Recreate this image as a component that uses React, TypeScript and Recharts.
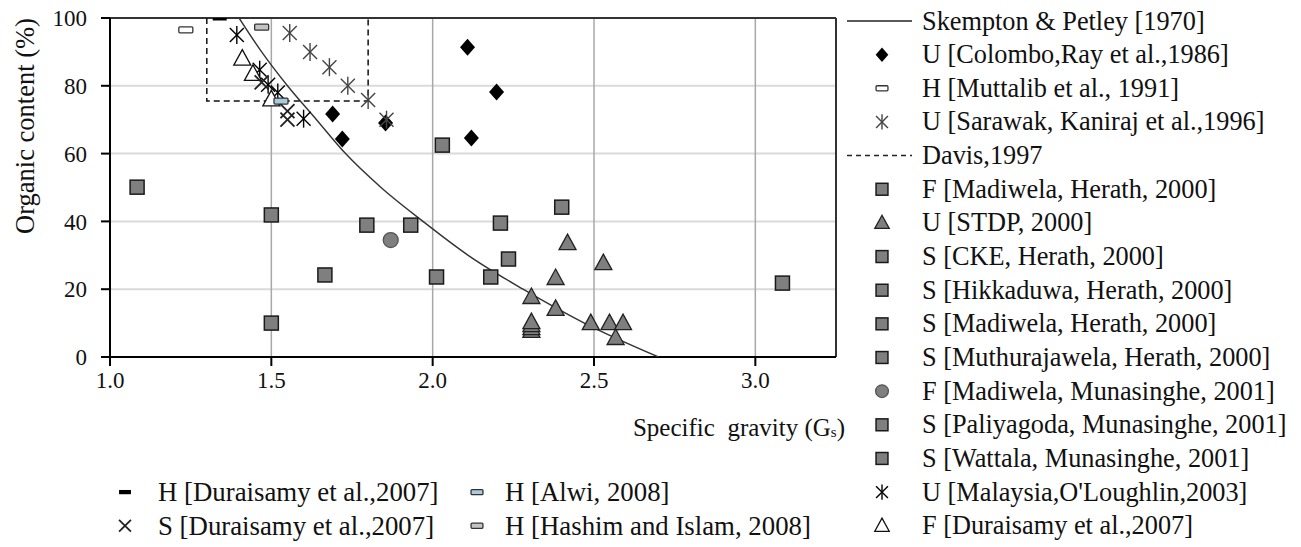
import React from 'react';
import { ScatterChart, Scatter, XAxis, YAxis, CartesianGrid, ReferenceLine } from 'recharts';

type Pt = { x: number; y: number };

const xTicks = [1.0, 1.5, 2.0, 2.5, 3.0];
const yTicks = [0, 20, 40, 60, 80, 100];

// reference curve
const skemptonPetley: Pt[] = [
  { x: 1.4, y: 100 }, { x: 1.47, y: 90 }, { x: 1.55, y: 80 }, { x: 1.64, y: 70 },
  { x: 1.73, y: 60 }, { x: 1.84, y: 50 }, { x: 1.97, y: 40 }, { x: 2.11, y: 30 },
  { x: 2.28, y: 20 }, { x: 2.47, y: 10 }, { x: 2.7, y: 0 }
];
const davis1997: Pt[] = [
  { x: 1.3, y: 100 }, { x: 1.3, y: 75.5 }, { x: 1.8, y: 75.5 }, { x: 1.8, y: 100 }
];

const colomboRay: Pt[] = [
  { x: 1.69, y: 71.7 }, { x: 1.72, y: 64.3 }, { x: 1.854, y: 69 },
  { x: 2.108, y: 91.4 }, { x: 2.198, y: 78.2 }, { x: 2.12, y: 64.6 }
];
const muttalib: Pt[] = [{ x: 1.235, y: 96.5 }];
const sarawak: Pt[] = [
  { x: 1.557, y: 95.6 }, { x: 1.62, y: 90 }, { x: 1.68, y: 85.5 },
  { x: 1.737, y: 80 }, { x: 1.8, y: 75.8 }, { x: 1.857, y: 70 }
];
const madiwelaHerathF: Pt[] = [{ x: 2.03, y: 62.5 }, { x: 2.21, y: 39.5 }];
const stdp: Pt[] = [
  { x: 2.418, y: 33.6 }, { x: 2.529, y: 27.7 }, { x: 2.381, y: 23.3 }, { x: 2.306, y: 17.7 },
  { x: 2.381, y: 14.2 }, { x: 2.306, y: 7.7 }, { x: 2.306, y: 8.5 }, { x: 2.306, y: 9.4 },
  { x: 2.306, y: 10.3 }, { x: 2.49, y: 10 }, { x: 2.548, y: 10 }, { x: 2.59, y: 10 },
  { x: 2.567, y: 5.6 }
];
const cke: Pt[] = [{ x: 1.796, y: 38.9 }, { x: 1.932, y: 38.9 }];
const hikkaduwa: Pt[] = [{ x: 1.5, y: 41.9 }, { x: 1.5, y: 10 }];
const madiwelaHerathS: Pt[] = [{ x: 2.235, y: 28.9 }, { x: 2.18, y: 23.6 }];
const muthurajawela: Pt[] = [{ x: 1.084, y: 50.1 }, { x: 1.666, y: 24.2 }];
const madiwelaMunasinghe: Pt[] = [{ x: 1.87, y: 34.5 }];
const paliyagoda: Pt[] = [{ x: 2.012, y: 23.6 }, { x: 3.084, y: 21.8 }];
const wattala: Pt[] = [{ x: 2.4, y: 44.2 }];
const malaysia: Pt[] = [
  { x: 1.393, y: 95 }, { x: 1.464, y: 84.7 }, { x: 1.49, y: 80.3 }, { x: 1.52, y: 78 }, { x: 1.6, y: 70.3 }
];
const duraisamyF: Pt[] = [{ x: 1.41, y: 88 }, { x: 1.443, y: 83.5 }, { x: 1.5, y: 76 }];
const duraisamyH: Pt[] = [{ x: 1.34, y: 100 }];
const alwi: Pt[] = [{ x: 1.53, y: 75.5 }];
const duraisamyS: Pt[] = [{ x: 1.55, y: 72.5 }, { x: 1.55, y: 70 }, { x: 1.47, y: 81 }];
const hashimIslam: Pt[] = [{ x: 1.47, y: 97.3 }];

const GRAY = '#7f7f7f';

function marker(kind: string, cx: number, cy: number, s = 1) {
  switch (kind) {
    case 'diamond':
      return <polygon points={`${cx},${cy - 8.5 * s} ${cx + 7.5 * s},${cy} ${cx},${cy + 8.5 * s} ${cx - 7.5 * s},${cy}`} fill="#000" />;
    case 'square':
      return <rect x={cx - 7 * s} y={cy - 7 * s} width={14 * s} height={14 * s} fill={GRAY} stroke="#1a1a1a" strokeWidth={1.5} />;
    case 'triangle':
      return <polygon points={`${cx},${cy - 9 * s} ${cx + 8.5 * s},${cy + 6.5 * s} ${cx - 8.5 * s},${cy + 6.5 * s}`} fill={GRAY} stroke="#222" strokeWidth={1.3} />;
    case 'triangleOpen':
      return <polygon points={`${cx},${cy - 9 * s} ${cx + 8.5 * s},${cy + 6.5 * s} ${cx - 8.5 * s},${cy + 6.5 * s}`} fill="#fff" stroke="#111" strokeWidth={1.3} />;
    case 'circle':
      return <circle cx={cx} cy={cy} r={7.5 * s} fill={GRAY} stroke="#555" strokeWidth={1.3} />;
    case 'asterGray':
    case 'asterBlack': {
      const c = kind === 'asterGray' ? '#444' : '#000';
      const d = 7 * s;
      return (
        <g stroke={c} strokeWidth={1.4}>
          <line x1={cx} y1={cy - 9 * s} x2={cx} y2={cy + 9 * s} />
          <line x1={cx - d} y1={cy - d} x2={cx + d} y2={cy + d} />
          <line x1={cx + d} y1={cy - d} x2={cx - d} y2={cy + d} />
        </g>
      );
    }
    case 'cross': {
      const d = 7 * s;
      return (
        <g stroke="#222" strokeWidth={1.8}>
          <line x1={cx - d} y1={cy - d} x2={cx + d} y2={cy + d} />
          <line x1={cx + d} y1={cy - d} x2={cx - d} y2={cy + d} />
        </g>
      );
    }
    case 'dashBlack':
      return <rect x={cx - 7 * s} y={cy - 2.5 * s} width={14 * s} height={5 * s} fill="#000" />;
    case 'dashWhite':
      return <rect x={cx - 7 * s} y={cy - 3 * s} width={14 * s} height={6 * s} rx={1} fill="#fff" stroke="#333" strokeWidth={1.3} />;
    case 'dashBlue':
      return <rect x={cx - 7 * s} y={cy - 3 * s} width={14 * s} height={6 * s} rx={1} fill="#a9cbdc" stroke="#333" strokeWidth={1.3} />;
    case 'dashGray':
      return <rect x={cx - 7 * s} y={cy - 3 * s} width={14 * s} height={6 * s} rx={1} fill="#c4c4c4" stroke="#333" strokeWidth={1.3} />;
    default:
      return <g />;
  }
}

const series = [
  { name: 'U [Colombo,Ray et al.,1986]', data: colomboRay, kind: 'diamond' },
  { name: 'H [Muttalib et al., 1991]', data: muttalib, kind: 'dashWhite' },
  { name: 'U [Sarawak, Kaniraj et al.,1996]', data: sarawak, kind: 'asterGray' },
  { name: 'F [Madiwela, Herath, 2000]', data: madiwelaHerathF, kind: 'square' },
  { name: 'U [STDP, 2000]', data: stdp, kind: 'triangle' },
  { name: 'S [CKE, Herath, 2000]', data: cke, kind: 'square' },
  { name: 'S [Hikkaduwa, Herath, 2000]', data: hikkaduwa, kind: 'square' },
  { name: 'S [Madiwela, Herath, 2000]', data: madiwelaHerathS, kind: 'square' },
  { name: 'S [Muthurajawela, Herath, 2000]', data: muthurajawela, kind: 'square' },
  { name: 'F [Madiwela, Munasinghe, 2001]', data: madiwelaMunasinghe, kind: 'circle' },
  { name: 'S [Paliyagoda, Munasinghe, 2001]', data: paliyagoda, kind: 'square' },
  { name: 'S [Wattala, Munasinghe, 2001]', data: wattala, kind: 'square' },
  { name: "U [Malaysia,O'Loughlin,2003]", data: malaysia, kind: 'asterBlack' },
  { name: 'F [Duraisamy et al.,2007]', data: duraisamyF, kind: 'triangleOpen' },
  { name: 'H [Duraisamy et al.,2007]', data: duraisamyH, kind: 'dashBlack' },
  { name: 'H [Alwi, 2008]', data: alwi, kind: 'dashBlue' },
  { name: 'S [Duraisamy et al.,2007]', data: duraisamyS, kind: 'cross' },
  { name: 'H [Hashim and Islam, 2008]', data: hashimIslam, kind: 'dashGray' }
];

const rightLegend = [
  { name: 'Skempton & Petley [1970]', kind: 'lineSolid' },
  ...series.slice(0, 3),
  { name: 'Davis,1997', kind: 'lineDash' },
  ...series.slice(3, 14)
];
const bottomLegend = series.slice(14);

const FONT = 'Liberation Serif, Tinos, DejaVu Serif, serif';

function Overlay() {
  const rowY = (i: number) => 21 + i * 33.65;
  return (
    <svg width={1301} height={547} style={{ position: 'absolute', left: 0, top: 0, pointerEvents: 'none', fontFamily: FONT }}>
      <text transform="translate(25,126) rotate(-90)" textAnchor="middle" dominantBaseline="central" fontSize={26.5} fill="#111">
        Organic content (%)
      </text>
      <text x={845} y={427} textAnchor="end" dominantBaseline="central" fontSize={25} fill="#111" xmlSpace="preserve">
        {'Specific  gravity (G'}
        <tspan fontSize={15} dy={5}>s</tspan>
        <tspan dy={-5}>)</tspan>
      </text>
      {rightLegend.map((it, i) => (
        <g key={it.name}>
          {it.kind === 'lineSolid' && <line x1={847} x2={912} y1={rowY(i)} y2={rowY(i)} stroke="#222" strokeWidth={1.5} />}
          {it.kind === 'lineDash' && <line x1={847} x2={912} y1={rowY(i)} y2={rowY(i)} stroke="#222" strokeWidth={1.5} strokeDasharray="5 4" />}
          {marker(it.kind, 882, rowY(i), 0.85)}
          <text x={922} y={rowY(i)} dominantBaseline="central" fontSize={26.3} fill="#111">{it.name}</text>
        </g>
      ))}
      {bottomLegend.map((it, i) => {
        const col = i % 2;
        const row = Math.floor(i / 2);
        const y = rowY(14 + row);
        const sx = col === 0 ? 125 : 477;
        const tx = col === 0 ? 158 : 505;
        return (
          <g key={it.name}>
            {marker(it.kind, sx, y, 0.85)}
            <text x={tx} y={y} dominantBaseline="central" fontSize={26.8} fill="#111">{it.name}</text>
          </g>
        );
      })}
    </svg>
  );
}

export default function App() {
  const tickStyle = { fontFamily: FONT, fontSize: 23, fill: '#111' };
  return (
    <div style={{ position: 'relative', width: 1301, height: 547, background: '#fff', fontFamily: FONT }}>
      <style>{'body{margin:0}'}</style>
      <ScatterChart width={1301} height={547} margin={{ top: 18, right: 465, bottom: 150, left: 0 }}>
        <CartesianGrid vertical={false} stroke="#dadada" strokeWidth={2} />
        {xTicks.slice(1).map(t => (
          <ReferenceLine key={t} x={t} stroke="#a8a8a8" strokeWidth={1.5} />
        ))}
        <ReferenceLine y={100} stroke="#333" strokeWidth={2} />
        <ReferenceLine x={3.25} stroke="#333" strokeWidth={2} />
        <XAxis
          type="number"
          dataKey="x"
          domain={[1, 3.25]}
          ticks={xTicks}
          allowDataOverflow
          height={40}
          tickFormatter={(v: number) => v.toFixed(1)}
          tick={tickStyle}
          stroke="#000"
          axisLine={{ stroke: '#000', strokeWidth: 2 }}
          tickLine={{ stroke: '#000', strokeWidth: 2 }}
          tickSize={9}
          tickMargin={6}
        />
        <YAxis
          type="number"
          dataKey="y"
          domain={[0, 100]}
          ticks={yTicks}
          allowDataOverflow
          width={110}
          tick={tickStyle}
          stroke="#000"
          axisLine={{ stroke: '#000', strokeWidth: 2 }}
          tickLine={{ stroke: '#000', strokeWidth: 2 }}
          tickSize={9}
          tickMargin={14}
        />
        <Scatter
          data={skemptonPetley}
          line={{ stroke: '#333', strokeWidth: 1.4 }}
          lineJointType="monotoneX"
          shape={() => <g />}
          isAnimationActive={false}
        />
        <Scatter
          data={davis1997}
          line={{ stroke: '#111', strokeWidth: 1.5, strokeDasharray: '6 4' }}
          shape={() => <g />}
          isAnimationActive={false}
        />
        {series.map(s => (
          <Scatter
            key={s.name}
            name={s.name}
            data={s.data}
            shape={(p: any) => marker(s.kind, p.cx, p.cy)}
            isAnimationActive={false}
          />
        ))}
      </ScatterChart>
      <Overlay />
    </div>
  );
}
